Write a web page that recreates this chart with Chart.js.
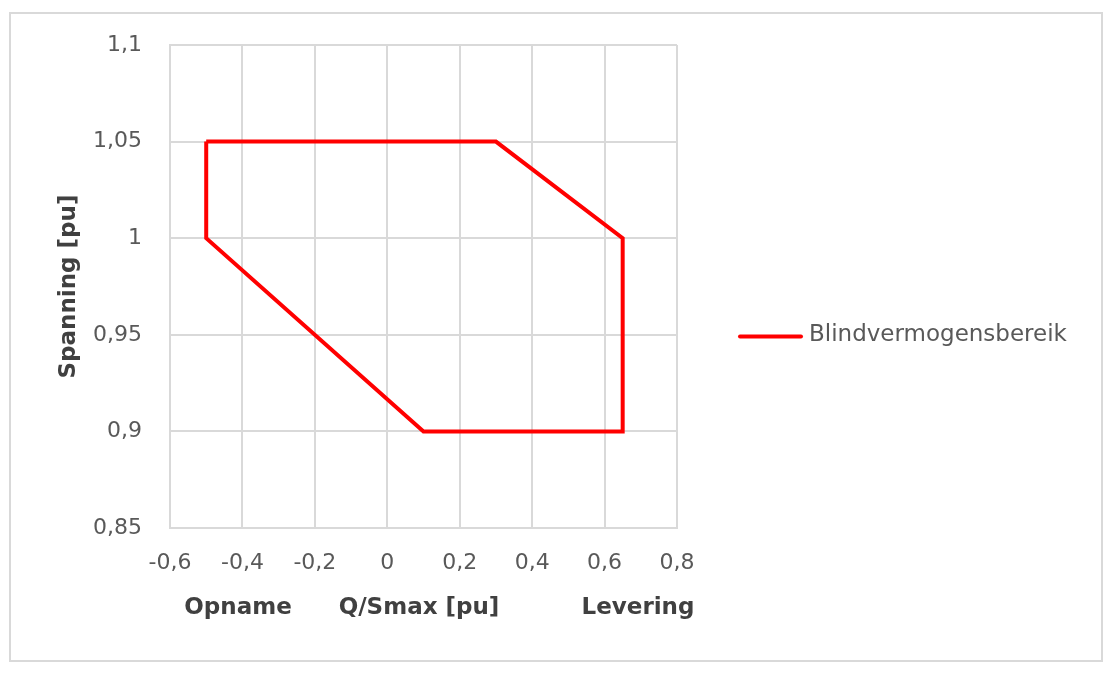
<!DOCTYPE html>
<html>
<head>
<meta charset="utf-8">
<title>Blindvermogensbereik</title>
<script src="https://cdn.jsdelivr.net/npm/chart.js@4.4.1/dist/chart.umd.min.js"></script>
<style>
	html, body { margin: 0; padding: 0; background: #fff; }
	#frame {
		position: absolute; left: 9px; top: 12px;
		width: 1094px; height: 650px;
		box-sizing: border-box; border: 2px solid #d9d9d9;
	}
	#chart { position: absolute; left: 0; top: 0; }
</style>
</head>
<body>
<div id="frame"></div>
<canvas id="chart" width="1113" height="677"></canvas>
<script>
// Q/Smax (x) and voltage (y) of the polygon corners, closed back to the start
var seriesLabel = "Blindvermogensbereik";
var qValues = [-0.5, 0.3, 0.65, 0.65, 0.1, -0.5, -0.5];
var uValues = [1.05, 1.05, 1.0, 0.9, 0.9, 1.0, 1.05];

var xTicks = { min: -0.6, max: 0.8, step: 0.2 };
var yTicks = { min: 0.85, max: 1.1, step: 0.05 };
var xTitleParts = ["Opname", "Q/Smax [pu]", "Levering"];
var yTitle = "Spanning [pu]";

var fontFamily = "'DejaVu Sans', 'Liberation Sans', sans-serif";
var gridColour = "#d9d9d9";

var commaNumber = function (value) {
	return String(Math.round(value * 100) / 100).replace(".", ",");
};

var points = qValues.map(function (q, i) {
	return { x: q, y: uValues[i] };
});

// the x title is three separate words in the original, spread under the axis
var xTitlePlugin = {
	id: "xTitleParts",
	afterDraw: function (chart) {
		var ctx = chart.ctx;
		var area = chart.chartArea;
		var centres = [area.left + 68, area.left + 249, area.right - 39];

		ctx.save();
		ctx.font = "bold 23px " + fontFamily;
		ctx.fillStyle = "#404040";
		ctx.textAlign = "center";
		ctx.textBaseline = "middle";
		xTitleParts.forEach(function (text, i) {
			ctx.fillText(text, centres[i], area.bottom + 80);
		});
		ctx.restore();
	},
};

var legendPlugin = {
	id: "sideLegend",
	afterDraw: function (chart) {
		var ctx = chart.ctx;
		var dataset = chart.data.datasets[0];
		var y = (chart.chartArea.top + chart.chartArea.bottom) / 2 + 50;
		var x = chart.chartArea.right + 63;

		ctx.save();
		ctx.strokeStyle = dataset.borderColor;
		ctx.lineWidth = 4;
		ctx.lineCap = "round";
		ctx.beginPath();
		ctx.moveTo(x, y);
		ctx.lineTo(x + 61, y);
		ctx.stroke();

		ctx.font = "23px " + fontFamily;
		ctx.fillStyle = "#595959";
		ctx.textBaseline = "middle";
		ctx.fillText(dataset.label, x + 69, y - 1);
		ctx.restore();
	},
};

new Chart(document.getElementById("chart"), {
	type: "scatter",
	data: {
		datasets: [{
			label: seriesLabel,
			data: points,
			showLine: true,
			borderColor: "#ff0000",
			backgroundColor: "#ff0000",
			borderWidth: 4,
			borderJoinStyle: "miter",
			pointRadius: 0,
			fill: false,
		}],
	},
	options: {
		responsive: false,
		animation: false,
		layout: {
			padding: { left: 0, right: 436, top: 45, bottom: 0 },
		},
		plugins: {
			legend: { display: false },
			tooltip: { enabled: false },
		},
		scales: {
			x: {
				type: "linear",
				min: xTicks.min,
				max: xTicks.max,
				ticks: {
					stepSize: xTicks.step,
					padding: 22,
					color: "#595959",
					font: { family: fontFamily, size: 22 },
					callback: commaNumber,
				},
				grid: { color: gridColour, lineWidth: 2, drawTicks: false },
				border: { color: gridColour, width: 2 },
				afterFit: function (scale) {
					scale.height = 149;
				},
			},
			y: {
				type: "linear",
				min: yTicks.min,
				max: yTicks.max,
				ticks: {
					stepSize: yTicks.step,
					padding: 28,
					color: "#595959",
					font: { family: fontFamily, size: 22 },
					callback: commaNumber,
				},
				grid: { color: gridColour, lineWidth: 2, drawTicks: false },
				border: { color: gridColour, width: 2 },
				title: {
					display: true,
					text: yTitle,
					color: "#404040",
					font: { family: fontFamily, size: 23, weight: "bold" },
					padding: { top: 55, bottom: 0 },
				},
				afterFit: function (scale) {
					scale.width = 170;
				},
			},
		},
	},
	plugins: [xTitlePlugin, legendPlugin],
});
</script>
</body>
</html>
